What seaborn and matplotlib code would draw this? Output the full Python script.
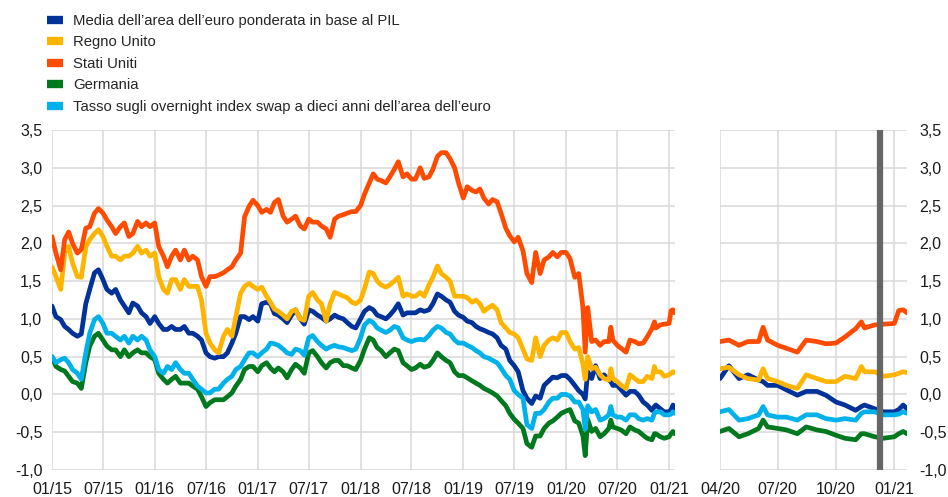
import matplotlib
matplotlib.use("Agg")
import matplotlib.pyplot as plt
import matplotlib.dates as mdates
from matplotlib.ticker import FuncFormatter
from matplotlib.lines import Line2D
import seaborn as sns
import pandas as pd

# 1st and 15th of every month 2015-2019, then the 2020-21 points
dates = [f"{y}-{m:02d}-{d:02d}" for y in range(2015, 2020) for m in range(1, 13) for d in (1, 15)]
dates += ["2020-01-01", "2020-01-15", "2020-02-01", "2020-02-15", "2020-03-01", "2020-03-09", "2020-03-18"]
dates += [
    "2020-04-01", "2020-04-15", "2020-05-01", "2020-05-15", "2020-06-01", "2020-06-08",
    "2020-06-15", "2020-07-01", "2020-07-15", "2020-08-01", "2020-08-15", "2020-09-01",
    "2020-09-15", "2020-10-01", "2020-10-15", "2020-11-01", "2020-11-10", "2020-11-15",
    "2020-12-01", "2020-12-15", "2021-01-01", "2021-01-08", "2021-01-15", "2021-01-21",
]

euro_area = [
    1.17, 1.03, 0.99, 0.90, 0.86, 0.81, 0.77, 0.80, 1.20, 1.39, 1.61, 1.65,
    1.52, 1.39, 1.34, 1.39, 1.25, 1.17, 1.08, 1.21, 1.17, 1.08, 1.03, 0.94,
    1.03, 0.94, 0.86, 0.86, 0.90, 0.86, 0.86, 0.90, 0.81, 0.81, 0.77, 0.72,
    0.55, 0.50, 0.48, 0.50, 0.50, 0.55, 0.68, 0.81, 1.03, 1.03, 0.99, 1.03,
    0.97, 1.20, 1.22, 1.20, 1.07, 1.05, 1.00, 0.95, 1.05, 1.12, 1.00, 0.93,
    1.12, 1.10, 1.05, 1.02, 0.97, 1.00, 1.05, 1.02, 1.00, 0.95, 0.90, 0.88,
    1.00, 1.10, 1.15, 1.12, 1.05, 1.03, 1.00, 1.05, 1.12, 1.20, 1.05, 1.08,
    1.08, 1.08, 1.12, 1.10, 1.12, 1.20, 1.33, 1.30, 1.25, 1.22, 1.10, 1.05,
    1.02, 0.97, 0.95, 0.90, 0.87, 0.85, 0.82, 0.80, 0.75, 0.65, 0.60, 0.45,
    0.38, 0.30, 0.05, -0.05, -0.12, -0.02, -0.05, 0.12, 0.18, 0.23, 0.22, 0.25,
    0.25, 0.20, 0.12, 0.05, 0.00, -0.06, 0.30,
    0.21, 0.38, 0.21, 0.26, 0.19, 0.17, 0.12, 0.12, 0.06, -0.01, 0.04, 0.04,
    -0.01, -0.10, -0.14, -0.21, -0.16, -0.14, -0.19, -0.23, -0.23, -0.20, -0.14, -0.19,
]

uk = [
    1.69, 1.56, 1.39, 1.87, 1.96, 1.74, 1.56, 1.55, 1.95, 2.05, 2.13, 2.18,
    2.09, 1.96, 1.83, 1.83, 1.78, 1.83, 1.83, 1.87, 1.96, 1.87, 1.91, 1.83,
    1.87, 1.56, 1.39, 1.34, 1.52, 1.52, 1.39, 1.52, 1.43, 1.43, 1.43, 1.25,
    0.81, 0.68, 0.59, 0.55, 0.77, 0.86, 0.77, 1.03, 1.34, 1.43, 1.47, 1.43,
    1.39, 1.42, 1.30, 1.22, 1.13, 1.10, 1.05, 1.00, 1.10, 1.12, 1.00, 0.98,
    1.30, 1.35, 1.25, 1.20, 0.97, 1.20, 1.35, 1.33, 1.30, 1.28, 1.22, 1.20,
    1.25, 1.40, 1.62, 1.60, 1.50, 1.45, 1.42, 1.45, 1.50, 1.55, 1.30, 1.33,
    1.30, 1.30, 1.35, 1.30, 1.45, 1.55, 1.70, 1.60, 1.55, 1.50, 1.30, 1.30,
    1.30, 1.28, 1.22, 1.25, 1.20, 1.10, 1.15, 1.18, 1.12, 0.95, 0.88, 0.82,
    0.80, 0.75, 0.60, 0.47, 0.45, 0.75, 0.50, 0.65, 0.72, 0.75, 0.72, 0.82,
    0.82, 0.70, 0.60, 0.62, 0.40, 0.20, 0.50,
    0.34, 0.36, 0.26, 0.21, 0.19, 0.34, 0.21, 0.17, 0.12, 0.08, 0.26, 0.21,
    0.17, 0.17, 0.24, 0.21, 0.37, 0.30, 0.30, 0.24, 0.26, 0.28, 0.30, 0.29,
]

us = [
    2.09, 1.87, 1.65, 2.05, 2.15, 2.00, 1.87, 1.92, 2.20, 2.22, 2.40, 2.46,
    2.40, 2.31, 2.22, 2.13, 2.22, 2.27, 2.09, 2.13, 2.29, 2.22, 2.27, 2.22,
    2.27, 1.96, 1.83, 1.69, 1.83, 1.91, 1.78, 1.91, 1.78, 1.83, 1.78, 1.56,
    1.43, 1.56, 1.56, 1.58, 1.61, 1.65, 1.69, 1.78, 1.87, 2.35, 2.49, 2.57,
    2.50, 2.41, 2.45, 2.41, 2.54, 2.58, 2.36, 2.28, 2.32, 2.36, 2.23, 2.19,
    2.32, 2.28, 2.28, 2.23, 2.19, 2.08, 2.32, 2.36, 2.38, 2.40, 2.42, 2.42,
    2.50, 2.65, 2.80, 2.92, 2.85, 2.83, 2.80, 2.88, 2.98, 3.08, 2.88, 2.92,
    2.85, 2.85, 3.00, 2.86, 2.88, 2.98, 3.15, 3.20, 3.20, 3.12, 3.00, 2.80,
    2.60, 2.75, 2.70, 2.68, 2.72, 2.60, 2.52, 2.58, 2.55, 2.40, 2.20, 2.10,
    2.02, 2.08, 1.90, 1.60, 1.48, 1.88, 1.60, 1.78, 1.82, 1.88, 1.82, 1.88,
    1.88, 1.80, 1.55, 1.60, 1.15, 0.56, 1.15,
    0.70, 0.72, 0.65, 0.70, 0.70, 0.89, 0.72, 0.65, 0.61, 0.56, 0.72, 0.70,
    0.67, 0.68, 0.76, 0.87, 0.96, 0.88, 0.92, 0.93, 0.94, 1.11, 1.12, 1.08,
]

germany = [
    0.50, 0.37, 0.33, 0.31, 0.24, 0.17, 0.15, 0.08, 0.42, 0.64, 0.77, 0.81,
    0.72, 0.64, 0.59, 0.59, 0.50, 0.59, 0.50, 0.55, 0.59, 0.55, 0.55, 0.50,
    0.46, 0.28, 0.20, 0.15, 0.20, 0.24, 0.15, 0.15, 0.15, 0.11, 0.07, -0.03,
    -0.16, -0.11, -0.07, -0.07, -0.07, -0.03, 0.02, 0.11, 0.20, 0.33, 0.37, 0.37,
    0.30, 0.38, 0.42, 0.35, 0.30, 0.35, 0.30, 0.22, 0.33, 0.40, 0.35, 0.28,
    0.55, 0.58, 0.50, 0.42, 0.35, 0.42, 0.45, 0.45, 0.38, 0.38, 0.35, 0.33,
    0.45, 0.60, 0.75, 0.72, 0.62, 0.58, 0.50, 0.55, 0.60, 0.58, 0.42, 0.38,
    0.33, 0.35, 0.40, 0.36, 0.38, 0.45, 0.55, 0.50, 0.45, 0.42, 0.30, 0.25,
    0.25, 0.22, 0.18, 0.15, 0.12, 0.08, 0.05, 0.02, -0.02, -0.08, -0.15, -0.25,
    -0.33, -0.38, -0.45, -0.65, -0.70, -0.55, -0.55, -0.45, -0.38, -0.35, -0.30, -0.25,
    -0.22, -0.20, -0.35, -0.38, -0.55, -0.81, -0.33,
    -0.49, -0.45, -0.56, -0.52, -0.45, -0.34, -0.43, -0.45, -0.47, -0.52, -0.43, -0.47,
    -0.49, -0.54, -0.58, -0.60, -0.52, -0.52, -0.56, -0.58, -0.56, -0.52, -0.49, -0.52,
]

ois = [
    0.50, 0.42, 0.46, 0.48, 0.42, 0.33, 0.28, 0.20, 0.55, 0.81, 0.99, 1.03,
    0.94, 0.81, 0.81, 0.77, 0.72, 0.77, 0.68, 0.77, 0.72, 0.77, 0.72, 0.59,
    0.50, 0.33, 0.28, 0.37, 0.33, 0.42, 0.33, 0.28, 0.28, 0.20, 0.11, 0.07,
    0.02, 0.02, 0.07, 0.07, 0.15, 0.20, 0.24, 0.33, 0.37, 0.46, 0.55, 0.55,
    0.50, 0.55, 0.60, 0.68, 0.67, 0.65, 0.60, 0.55, 0.53, 0.60, 0.58, 0.52,
    0.75, 0.78, 0.70, 0.65, 0.60, 0.63, 0.65, 0.63, 0.62, 0.60, 0.58, 0.60,
    0.75, 0.92, 0.98, 0.95, 0.88, 0.85, 0.82, 0.85, 0.90, 0.88, 0.75, 0.72,
    0.70, 0.72, 0.73, 0.72, 0.78, 0.85, 0.90, 0.88, 0.82, 0.80, 0.72, 0.68,
    0.68, 0.65, 0.62, 0.58, 0.55, 0.50, 0.48, 0.45, 0.42, 0.35, 0.25, 0.20,
    0.05, 0.00, -0.05, -0.40, -0.45, -0.25, -0.25, -0.20, -0.10, -0.05, -0.05, 0.00,
    0.00, -0.02, -0.10, -0.10, -0.20, -0.46, -0.15,
    -0.23, -0.20, -0.34, -0.32, -0.27, -0.16, -0.27, -0.30, -0.30, -0.34, -0.27, -0.27,
    -0.32, -0.34, -0.32, -0.34, -0.25, -0.23, -0.23, -0.27, -0.27, -0.26, -0.23, -0.25,
]

names = [
    "Media dell’area dell’euro ponderata in base al PIL",
    "Regno Unito",
    "Stati Uniti",
    "Germania",
    "Tasso sugli overnight index swap a dieci anni dell’area dell’euro",
]
colors = ["#003299", "#FFB400", "#FF4B00", "#00781E", "#00B1EA"]

df = pd.DataFrame({"data": pd.to_datetime(dates), names[0]: euro_area, names[1]: uk,
                   names[2]: us, names[3]: germany, names[4]: ois})
long = df.melt(id_vars="data", var_name="serie", value_name="tasso")

sns.set_style("white")
plt.rcParams["font.family"] = ["Liberation Sans", "DejaVu Sans"]

fig = plt.figure(figsize=(9.48, 4.97), dpi=100)
ax1 = fig.add_axes([52 / 948, 27 / 497, 623 / 948, 340 / 497])
ax2 = fig.add_axes([720 / 948, 27 / 497, 187 / 948, 340 / 497])

pal = dict(zip(names, colors))
right_part = long[long["data"] >= "2020-04-01"]
for ax, d in [(ax1, long), (ax2, right_part)]:
    sns.lineplot(data=d, x="data", y="tasso", hue="serie", hue_order=names, palette=pal,
                 linewidth=3.4, estimator=None, legend=False, ax=ax)
    ax.set_ylim(-1.0, 3.5)
    ax.set_yticks([-1.0, -0.5, 0.0, 0.5, 1.0, 1.5, 2.0, 2.5, 3.0, 3.5])
    ax.yaxis.set_major_formatter(FuncFormatter(lambda v, p: f"{v:.1f}".replace(".", ",")))
    ax.xaxis.set_major_formatter(mdates.DateFormatter("%m/%y"))
    ax.grid(True, color="#D9D9D9", linewidth=1.1)
    ax.set_axisbelow(True)
    for s in ax.spines.values():
        s.set_visible(False)
    ax.set_xlabel("")
    ax.set_ylabel("")
    ax.tick_params(length=0, labelsize=11.5, colors="#1a1a1a")

ax1.set_xlim(pd.Timestamp("2015-01-01"), pd.Timestamp("2021-01-22"))
ax1.set_xticks(pd.date_range("2015-01-01", "2021-01-01", freq="6MS"))
ax1.tick_params(axis="y", pad=7)
ax1.tick_params(axis="x", pad=9)

ax2.set_xlim(pd.Timestamp("2020-04-01"), pd.Timestamp("2021-01-21"))
ax2.set_xticks(pd.date_range("2020-04-01", "2021-01-01", freq="3MS"))
ax2.yaxis.tick_right()
ax2.tick_params(axis="y", labelright=True, labelleft=False, pad=9)
ax2.tick_params(axis="x", pad=9)
ax2.axvline(pd.Timestamp("2020-12-10"), color="#666666", linewidth=4.5, zorder=5)

handles = [Line2D([], [], color=c, linewidth=6, solid_capstyle="butt") for c in colors]
fig.legend(handles, names, loc="upper left", bbox_to_anchor=(47 / 948, 1 - 14 / 497),
           frameon=False, fontsize=10.7, handlelength=1.05, handletextpad=0.7,
           labelspacing=0.5, borderpad=0, borderaxespad=0)

fig.savefig("out.png", dpi=100)
